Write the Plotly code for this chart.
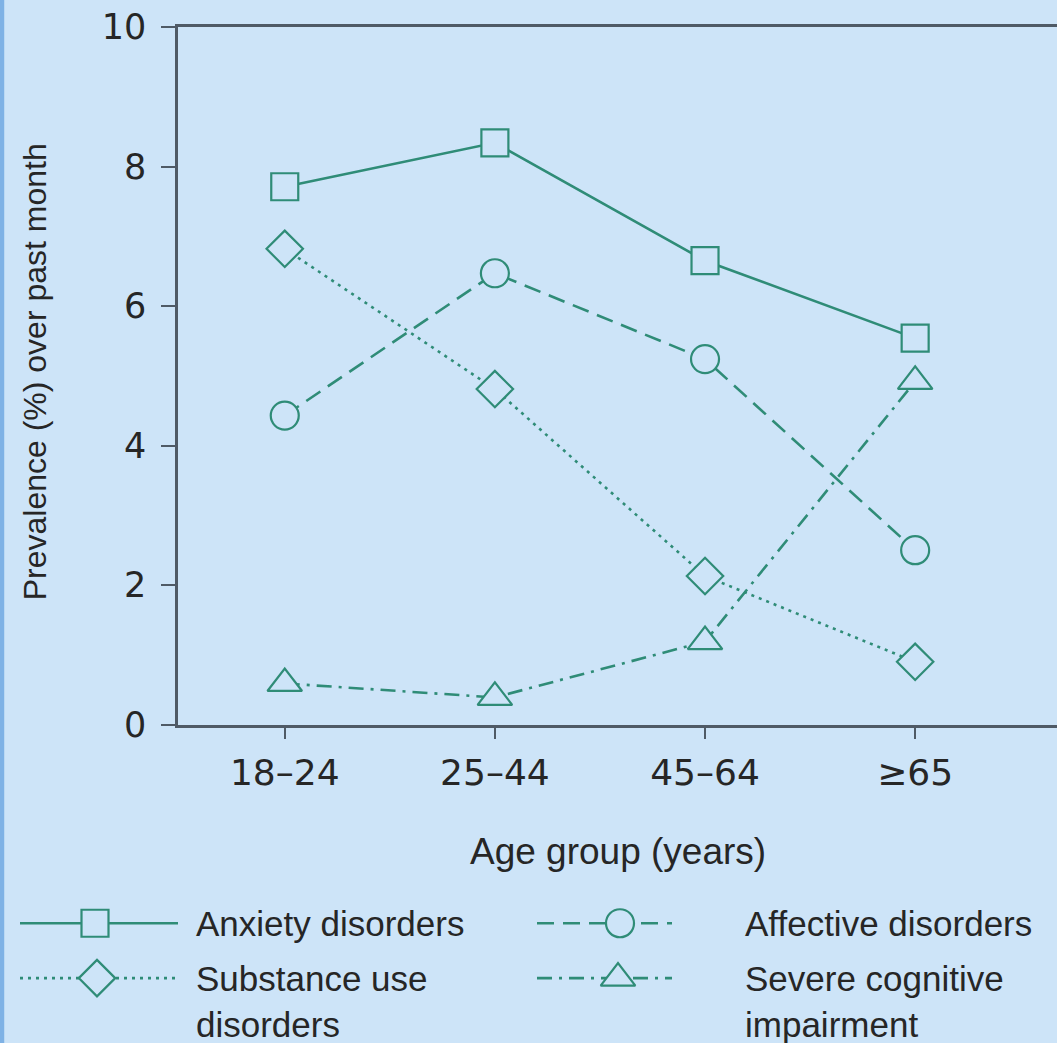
import plotly.graph_objects as go

categories = ["18\u201324", "25\u201344", "45\u201364", "\u226565"]
anxiety = [7.71, 8.34, 6.65, 5.54]
affective = [4.43, 6.47, 5.24, 2.50]
substance = [6.82, 4.81, 2.13, 0.90]
cognitive = [0.59, 0.39, 1.19, 4.92]
y_ticks = [0, 2, 4, 6, 8, 10]

BG = "#cde4f8"
TEAL = "#2f8c77"
AX = "#4f5a66"
TXT = "#262626"
FONT = "Liberation Sans, Arial, sans-serif"
TICKFONT = "DejaVu Sans, sans-serif"

series = [
    ("Anxiety disorders", anxiety, "solid", "square"),
    ("Affective disorders", affective, "17px,9px", "circle"),
    ("Substance use disorders", substance, "3px,5px", "diamond"),
    ("Severe cognitive impairment", cognitive, "15px,7px,3px,7px", "triangle-up"),
]
MSIZE = {"square": 27, "circle": 28, "diamond": 28, "triangle-up": 30}

W = 1057
H = 1061
K = H / 1043.0
T = 27 * K
ph = H - T

fig = go.Figure()
xi = list(range(len(categories)))
for name, vals, dash, sym in series:
    fig.add_trace(go.Scatter(
        x=xi, y=vals, mode="lines+markers", name=name,
        line=dict(color=TEAL, width=2.6, dash=dash),
        marker=dict(symbol=sym, size=MSIZE[sym],
                    color=BG, line=dict(color=TEAL, width=2.2)),
        showlegend=False, cliponaxis=False,
    ))

# custom legend drawn on a pixel-coordinate overlay axis (reference pixel units)
leg = [
    (series[0], 20, 178, 95, 925, 194, ["Anxiety disorders"]),
    (series[1], 537, 672, 620, 925, 743, ["Affective disorders"]),
    (series[2], 20, 178, 97, 980, 194, ["Substance use", "disorders"]),
    (series[3], 537, 672, 618, 980, 743, ["Severe cognitive", "impairment"]),
]
for (name, vals, dash, sym), x0, x1, xm, yy, xt, lines in leg:
    fig.add_trace(go.Scatter(
        x=[x0, x1], y=[yy, yy], mode="lines", xaxis="x2", yaxis="y2",
        line=dict(color=TEAL, width=2.6, dash=dash), showlegend=False, hoverinfo="skip"))
    fig.add_trace(go.Scatter(
        x=[xm], y=[yy], mode="markers", xaxis="x2", yaxis="y2",
        marker=dict(symbol=sym, size=MSIZE[sym],
                    color=BG, line=dict(color=TEAL, width=2.2)),
        showlegend=False, hoverinfo="skip"))
    for k, t in enumerate(lines):
        fig.add_annotation(x=xt, y=yy + k * 46, xref="x2", yref="y2", text=t,
                           showarrow=False, xanchor="left", yanchor="middle",
                           font=dict(family=FONT, size=35, color=TXT))

# axis titles
fig.add_annotation(x=618, y=853, xref="x2", yref="y2", text="Age group (years)",
                   showarrow=False, xanchor="center", yanchor="middle",
                   font=dict(family=FONT, size=37, color=TXT))
fig.add_annotation(x=35, y=373, xref="x2", yref="y2", text="Prevalence (%) over past month",
                   showarrow=False, xanchor="center", yanchor="middle", textangle=-90,
                   font=dict(family=FONT, size=32, color=TXT))

fig.update_layout(
    width=W, height=H,
    paper_bgcolor=BG, plot_bgcolor="rgba(0,0,0,0)",
    margin=dict(l=0, r=0, t=T, b=0),
    xaxis=dict(domain=[178 / W, 1], range=[-0.508, 3.675], tickvals=xi,
               ticktext=categories, showgrid=False, zeroline=False,
               showline=True, linecolor=AX, linewidth=2.5, mirror=True,
               ticks="outside", ticklen=12, tickwidth=2, tickcolor=AX,
               ticklabelstandoff=2,
               tickfont=dict(family=TICKFONT, size=36, color=TXT)),
    yaxis=dict(domain=[(H - 726 * K) / ph, 1], range=[0, 10], tickvals=y_ticks,
               showgrid=False, zeroline=False, showline=True, linecolor=AX,
               linewidth=2.5, ticks="outside", ticklen=14, tickwidth=2, tickcolor=AX,
               ticklabelstandoff=8,
               tickfont=dict(family=TICKFONT, size=35, color=TXT)),
    xaxis2=dict(domain=[0, 1], range=[0, W], visible=False, anchor="y2"),
    yaxis2=dict(domain=[0, 1], range=[H / K, 27], visible=False, anchor="x2"),
    shapes=[dict(type="rect", xref="paper", yref="paper", x0=-0.0, x1=0.004,
                 y0=-0.03, y1=1.03, fillcolor="#7fb2e5", line=dict(width=0))],
)

post = (
    "document.documentElement.style.margin='0';"
    "document.body.style.margin='0';"
    "document.body.style.background='" + BG + "';"
)
fig.write_html("out.html", config={"displayModeBar": False}, post_script=post)
